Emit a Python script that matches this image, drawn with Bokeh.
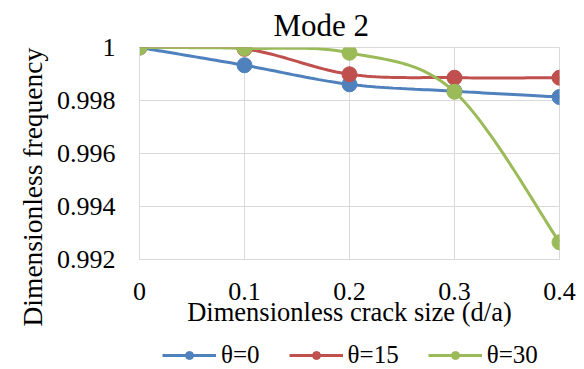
from bokeh.plotting import figure
from bokeh.layouts import column
from bokeh.models import Legend, LegendItem, FixedTicker, Range1d, Title
from bokeh.embed import file_html
from bokeh.resources import INLINE

# Dimensionless crack size (d/a)
crack_size = [0.0, 0.1, 0.2, 0.3, 0.4]

# Dimensionless frequency of mode 2 for each crack angle
freq_theta0 = [1.0, 0.99933, 0.99861, 0.99835, 0.99813]
freq_theta15 = [1.0, 0.99995, 0.99899, 0.99886, 0.99886]
freq_theta30 = [1.0, 0.99997, 0.99980, 0.99833, 0.99265]

series_names = ["θ=0", "θ=15", "θ=30"]
series_colors = ["#4f81bd", "#c0504d", "#9bbb59"]
series_values = [freq_theta0, freq_theta15, freq_theta30]

x_ticks = [0.0, 0.1, 0.2, 0.3, 0.4]
x_tick_labels = ["0", "0.1", "0.2", "0.3", "0.4"]
y_ticks = [0.992, 0.994, 0.996, 0.998, 1.0]
y_tick_labels = ["0.992", "0.994", "0.996", "0.998", "1"]

FONT = "serif"


def smooth(xs, ys, steps=24):
    """Cubic Bezier smoothing through every point (Catmull-Rom style)."""
    n = len(xs)
    out_x, out_y = [xs[0]], [ys[0]]
    for i in range(n - 1):
        x0, y0 = (xs[i - 1], ys[i - 1]) if i > 0 else (xs[i], ys[i])
        x1, y1 = xs[i], ys[i]
        x2, y2 = xs[i + 1], ys[i + 1]
        x3, y3 = (xs[i + 2], ys[i + 2]) if i + 2 < n else (xs[i + 1], ys[i + 1])
        c1x, c1y = x1 + (x2 - x0) / 6.0, y1 + (y2 - y0) / 6.0
        c2x, c2y = x2 - (x3 - x1) / 6.0, y2 - (y3 - y1) / 6.0
        for k in range(1, steps + 1):
            t = k / steps
            u = 1 - t
            out_x.append(u**3 * x1 + 3 * u * u * t * c1x + 3 * u * t * t * c2x + t**3 * x2)
            out_y.append(u**3 * y1 + 3 * u * u * t * c1y + 3 * u * t * t * c2y + t**3 * y2)
    return out_x, out_y


p = figure(
    frame_width=420,
    frame_height=212,
    output_backend="svg",
    toolbar_location=None,
    x_range=Range1d(0, 0.4),
    y_range=Range1d(0.992, 1.0),
    min_border_left=139,
    min_border_right=25,
    min_border_top=46,
    min_border_bottom=0,
)

p.title.text = "Mode 2"
p.title.text_font = FONT
p.title.text_font_size = "31px"
p.title.text_font_style = "normal"
p.title.text_color = "black"
p.title.align = "left"
p.title.offset = 134
p.title.standoff = 10

p.outline_line_color = "#d9d9d9"
p.background_fill_color = "white"
p.border_fill_color = "white"

for grid in (p.xgrid, p.ygrid):
    grid.grid_line_color = "#d9d9d9"
    grid.grid_line_width = 1
p.xgrid.ticker = FixedTicker(ticks=x_ticks)
p.ygrid.ticker = FixedTicker(ticks=y_ticks)

p.xaxis.ticker = FixedTicker(ticks=x_ticks)
p.xaxis.major_label_overrides = dict(zip(x_ticks, x_tick_labels))
p.yaxis.ticker = FixedTicker(ticks=y_ticks)
p.yaxis.major_label_overrides = dict(zip(y_ticks, y_tick_labels))

for axis in (p.xaxis, p.yaxis):
    axis.axis_line_color = "#d9d9d9"
    axis.major_tick_line_color = None
    axis.minor_tick_line_color = None
    axis.major_tick_out = 0
    axis.major_tick_in = 0
    axis.major_label_text_font = FONT
    axis.major_label_text_font_size = "26px"
    axis.major_label_text_color = "black"
    axis.axis_label_text_font = FONT
    axis.axis_label_text_font_size = "26.5px"
    axis.axis_label_text_font_style = "normal"
    axis.axis_label_text_color = "black"

p.xaxis.axis_label = "Dimensionless crack size (d/a)"
p.xaxis.major_label_standoff = 23
p.xaxis.axis_label_standoff = -6
p.yaxis.major_label_standoff = 24

# vertical axis title, shifted down along the axis
y_title = Title(
    text="Dimensionless frequency",
    align="left",
    offset=-67,
    standoff=12,
    text_font=FONT,
    text_font_size="27.5px",
    text_font_style="normal",
    text_color="black",
)
p.add_layout(y_title, "left")

for color, ys in zip(series_colors, series_values):
    sx, sy = smooth(crack_size, ys)
    p.line(sx, sy, line_color=color, line_width=3)
    p.scatter(crack_size, ys, size=15, fill_color=color, line_color=color)

# legend strip underneath the chart; its frame lines up with the chart frame,
# and its view window lies away from the series so only the legend shows
key = figure(
    frame_width=420,
    height=40,
    output_backend="svg",
    toolbar_location=None,
    x_axis_type=None,
    y_axis_type=None,
    min_border_left=139,
    min_border_right=25,
    min_border_top=0,
    min_border_bottom=0,
    x_range=Range1d(1, 2),
    y_range=Range1d(2, 3),
)
key.outline_line_color = None
key.grid.visible = False
key.background_fill_color = "white"
key.border_fill_color = "white"

items = []
for name, color, ys in zip(series_names, series_colors, series_values):
    line = key.line(crack_size, ys, line_color=color, line_width=3)
    dots = key.scatter(crack_size, ys, size=15, fill_color=color, line_color=color)
    items.append(LegendItem(label=name, renderers=[line, dots]))

legend = Legend(
    items=items,
    orientation="horizontal",
    location=(23, 0),
    padding=0,
    margin=0,
    spacing=29,
    glyph_width=54,
    glyph_height=20,
    label_height=20,
    label_standoff=5,
    label_text_font=FONT,
    label_text_font_size="25px",
    label_text_color="black",
    border_line_color=None,
    background_fill_alpha=0,
)
key.add_layout(legend, "center")

layout = column(p, key, spacing=0)

open("out.html", "w").write(file_html(layout, INLINE))
